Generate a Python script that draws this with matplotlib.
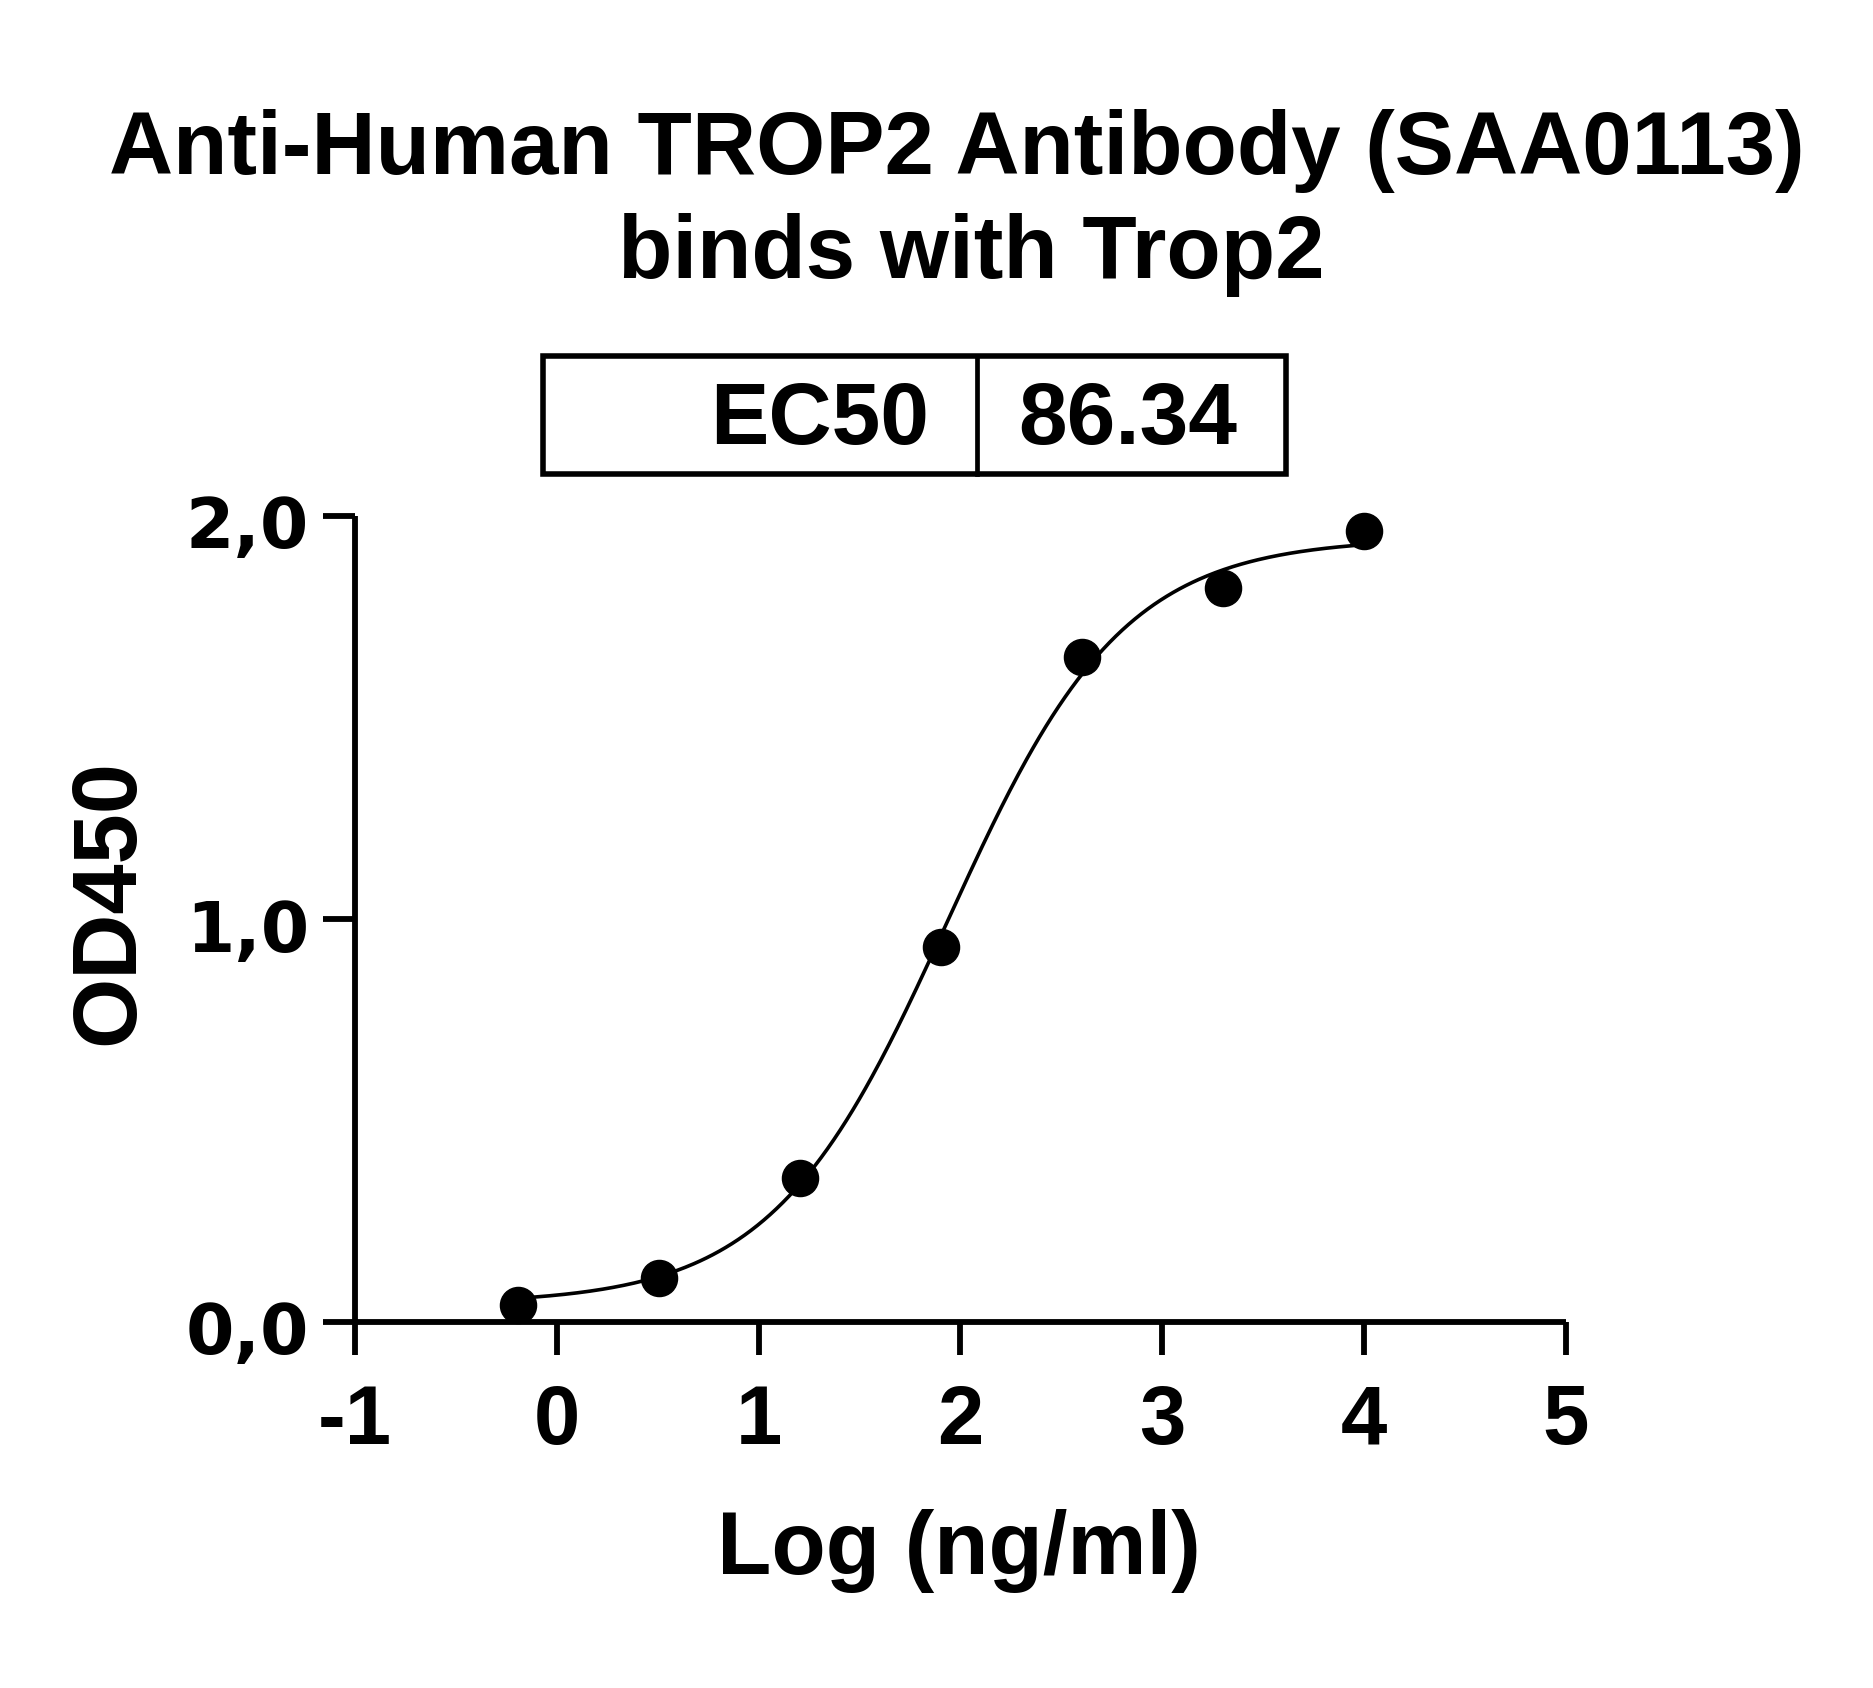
import numpy as np
import matplotlib
matplotlib.use("Agg")
import matplotlib.pyplot as plt
import matplotlib.transforms as mtransforms
from matplotlib.patches import Rectangle
from matplotlib.lines import Line2D

# ---- data ----
log_conc = [-0.194, 0.505, 1.204, 1.903, 2.602, 3.301, 4.0]
od450 = [0.042, 0.110, 0.358, 0.930, 1.651, 1.822, 1.963]

# 4PL fit parameters (EC50 reported on chart)
ec50 = 86.34
fit_bottom = 0.045
fit_top = 1.945
fit_hill = 1.0

xtick_values = [-1, 0, 1, 2, 3, 4, 5]
xtick_labels = ["-1", "0", "1", "2", "3", "4", "5"]
ytick_values = [0.0, 1.0, 2.0]
ytick_labels = ["0,0", "1,0", "2,0"]

title_line1 = "Anti-Human TROP2 Antibody (SAA0113)"
title_line2 = "binds with Trop2"
xlabel = "Log (ng/ml)"
ylabel = "OD450"
table_key = "EC50"
table_val = "86.34"

W, H = 1873, 1688
fig = plt.figure(figsize=(W / 100, H / 100), dpi=100)
fig.patch.set_facecolor("white")

def fx(px):
    return px / W

def fy(py):
    return 1 - py / H

ax = fig.add_axes([fx(355), fy(1322), fx(1566) - fx(355), fy(516) - fy(1322)])

main_font = "Liberation Sans"

# fitted curve
xf = np.linspace(log_conc[0], log_conc[-1], 400)
yf = fit_bottom + (fit_top - fit_bottom) / (1 + 10 ** ((np.log10(ec50) - xf) * fit_hill))
ax.plot(xf, yf, color="black", lw=2.6, zorder=2, clip_on=False)
ax.plot(log_conc, od450, "o", color="black", ms=26, zorder=3, clip_on=False)

ax.set_xlim(-1, 5)
ax.set_ylim(0, 2)
for s in ["top", "right"]:
    ax.spines[s].set_visible(False)
for s in ["left", "bottom"]:
    ax.spines[s].set_linewidth(4.2)
    ax.spines[s].set_capstyle("butt")

ax.set_xticks(xtick_values)
ax.set_xticklabels(xtick_labels, fontfamily=main_font, fontweight="bold", fontsize=60)
ax.set_yticks(ytick_values)
ax.set_yticklabels(ytick_labels, fontfamily="DejaVu Sans", fontweight="bold", fontsize=50)
ax.tick_params(axis="x", length=24, width=4.2, pad=20)
ax.tick_params(axis="y", length=23, width=4.2, pad=10)
shift = mtransforms.ScaledTranslation(0, -0.06, fig.dpi_scale_trans)
for lbl in ax.get_yticklabels():
    lbl.set_va("center_baseline")
    lbl.set_transform(lbl.get_transform() + shift)
ax.minorticks_off()

# titles
fig.text(fx(957), fy(174), title_line1, ha="center", va="baseline",
         fontfamily=main_font, fontweight="bold", fontsize=64)
fig.text(fx(971), fy(278), title_line2, ha="center", va="baseline",
         fontfamily=main_font, fontweight="bold", fontsize=64)

# axis labels
fig.text(fx(959), fy(1574), xlabel, ha="center", va="baseline",
         fontfamily=main_font, fontweight="bold", fontsize=64)
fig.text(fx(110), fy(902), ylabel, ha="center", va="center", rotation=90,
         fontfamily=main_font, fontweight="bold", fontsize=65)

# EC50 box
box = Rectangle((fx(543), fy(474)), fx(1286) - fx(543), fy(356) - fy(474),
                transform=fig.transFigure, fill=False, lw=4.0, edgecolor="black")
fig.add_artist(box)
fig.add_artist(Line2D([fx(977), fx(977)], [fy(474), fy(356)],
                      transform=fig.transFigure, color="black", lw=3.4))
fig.text(fx(929), fy(444), table_key, ha="right", va="baseline",
         fontfamily=main_font, fontweight="bold", fontsize=63)
fig.text(fx(1018), fy(444), table_val, ha="left", va="baseline",
         fontfamily=main_font, fontweight="bold", fontsize=63)

fig.savefig("out.png", dpi=100, facecolor="white")
